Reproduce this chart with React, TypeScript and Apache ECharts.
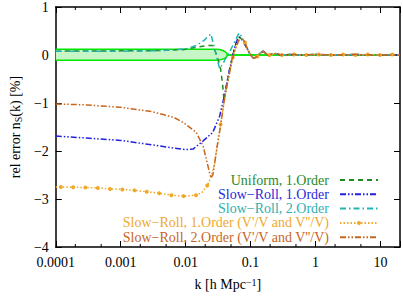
import React, { useEffect, useRef } from 'react';
import * as echarts from 'echarts';

const FONT = 'Liberation Serif';

// x tick labels (powers of ten) and minor tick positions
const xMin = 0.0001;
const xMax = 20;
const minorTicksK = [0.0002, 0.0005, 0.002, 0.005, 0.02, 0.05, 0.2, 0.5, 2, 5];

// green reference band
const bandK = [0.0001, 0.001, 0.01, 0.029, 0.0333, 0.038, 0.0409, 0.043, 0.0438, 20];
const bandUpper = [0.12, 0.12, 0.12, 0.12, 0.113, 0.089, 0.066, 0.037, 0, 0];
const bandLower = [-0.11, -0.11, -0.11, -0.11, -0.104, -0.081, -0.061, -0.034, 0, 0];

// Uniform, 1.Order
const uniformK = [0.0001, 0.003, 0.009, 0.0146, 0.022, 0.026, 0.0305, 0.0344, 0.037, 0.039, 0.0455, 0.052, 0.058, 0.064, 0.0685, 0.076, 0.0871, 0.1, 0.111, 0.127, 0.141, 0.156, 0.173, 0.186, 0.213, 0.244, 0.29, 0.4, 0.6, 1, 2, 4, 8, 20];
const uniformV = [0.08, 0.09, 0.11, 0.16, 0.2, 0.2, -0.02, -0.28, -0.6, -0.95, -0.42, -0.06, 0.2, 0.36, 0.37, 0.3, 0.15, 0.0, -0.07, -0.03, 0.04, 0.08, 0.03, -0.01, 0.02, 0.03, 0.0, 0.01, 0.0, 0.01, 0.0, 0.01, 0.0, 0.0];

// Slow-Roll, 1.Order
const sr1K = [0.0001, 0.0003, 0.001, 0.003, 0.006, 0.01, 0.013, 0.0186, 0.0262, 0.0333, 0.0395, 0.0455, 0.052, 0.058, 0.064, 0.0685, 0.076, 0.0871, 0.1, 0.111, 0.127, 0.141, 0.156, 0.173, 0.186, 0.213, 0.244, 0.29, 0.4, 0.6, 1, 2, 4, 8, 20];
const sr1V = [-1.69, -1.73, -1.78, -1.87, -1.93, -1.97, -1.96, -1.79, -1.61, -1.28, -0.85, -0.42, -0.06, 0.2, 0.36, 0.37, 0.3, 0.15, 0.0, -0.07, -0.03, 0.04, 0.08, 0.03, -0.01, 0.02, 0.03, 0.0, 0.01, 0.0, 0.01, 0.0, 0.01, 0.0, 0.0];

// Slow-Roll, 2.Order
const sr2K = [0.0001, 0.001, 0.004, 0.0104, 0.0146, 0.019, 0.0244, 0.0262, 0.0281, 0.0305, 0.0333, 0.0369, 0.0409, 0.0486, 0.057, 0.0662, 0.0734, 0.0814, 0.09, 0.1, 0.111, 0.127, 0.141, 0.156, 0.173, 0.186, 0.213, 0.244, 0.29, 0.4, 0.6, 1, 2, 4, 8, 20];
const sr2V = [0.08, 0.08, 0.09, 0.13, 0.2, 0.3, 0.44, 0.28, 0.12, -0.08, -0.28, -0.2, -0.08, 0.09, 0.28, 0.46, 0.38, 0.25, 0.1, 0.0, -0.07, -0.03, 0.04, 0.08, 0.03, -0.01, 0.02, 0.03, 0.0, 0.01, 0.0, 0.01, 0.0, 0.01, 0.0, 0.0];

// Slow-Roll, 1.Order (V'/V and V''/V)  -- srv1Dot: 1 = point marker drawn
const srv1K = [0.0001, 1.2e-4, 1.85e-4, 2.86e-4, 4.43e-4, 6.84e-4, 1.06e-3, 1.63e-3, 2.52e-3, 3.9e-3, 6.03e-3, 9.31e-3, 0.0144, 0.018, 0.0215, 0.0244, 0.028, 0.0305, 0.0344, 0.0395, 0.0438, 0.0486, 0.0531, 0.06, 0.0662, 0.0734, 0.082, 0.09, 0.1, 0.111, 0.127, 0.141, 0.156, 0.173, 0.196, 0.244, 0.303, 0.468, 0.723, 1.12, 1.73, 2.67, 4.12, 6.37, 9.84, 15.2, 20];
const srv1V = [-2.75, -2.75, -2.755, -2.76, -2.77, -2.79, -2.8, -2.82, -2.85, -2.88, -2.92, -2.94, -2.92, -2.86, -2.72, -2.56, -2.25, -1.91, -1.45, -0.93, -0.6, -0.3, -0.05, 0.18, 0.31, 0.34, 0.26, 0.12, 0.0, -0.07, -0.03, 0.04, 0.08, 0.03, 0.0, 0.03, 0.0, 0.01, 0.0, 0.01, 0.0, 0.01, 0.0, 0.01, 0.0, 0.01, 0.0];
const srv1Dot = [0, 1, 1, 1, 1, 1, 1, 1, 1, 1, 1, 1, 1, 0, 1, 0, 0, 0, 1, 0, 0, 0, 1, 0, 0, 0, 1, 0, 0, 0, 1, 0, 0, 0, 1, 0, 1, 1, 1, 1, 1, 1, 1, 1, 1, 1, 0];

// Slow-Roll, 2.Order (V'/V and V''/V)
const srv2K = [0.0001, 0.0003, 0.0006, 0.001, 0.003, 0.0066, 0.0093, 0.0145, 0.0186, 0.022, 0.0244, 0.0262, 0.028, 0.0305, 0.0333, 0.0363, 0.0395, 0.0438, 0.0486, 0.054, 0.06, 0.0662, 0.0734, 0.0814, 0.09, 0.1, 0.111, 0.127, 0.141, 0.156, 0.173, 0.186, 0.213, 0.244, 0.29, 0.4, 0.6, 1, 2, 4, 8, 20];
const srv2V = [-1.02, -1.04, -1.07, -1.09, -1.18, -1.3, -1.41, -1.61, -1.9, -2.31, -2.56, -2.5, -2.25, -1.91, -1.6, -1.27, -0.93, -0.6, -0.3, -0.02, 0.18, 0.31, 0.34, 0.27, 0.12, 0.0, -0.07, -0.03, 0.04, 0.08, 0.03, -0.01, 0.02, 0.03, 0.0, 0.01, 0.0, 0.01, 0.0, 0.01, 0.0, 0.0];

const names = [
  'Uniform, 1.Order',
  'Slow\u2212Roll, 1.Order',
  'Slow\u2212Roll, 2.Order',
  "Slow\u2212Roll, 1.Order (V'/V and V''/V)",
  "Slow\u2212Roll, 2.Order (V'/V and V''/V)",
];
const lineColors = ['#1e8c1e', '#2222dd', '#22b4b4', '#f0a828', '#c8661c'];
const textColors = ['#2a8a2a', '#2a2ad8', '#30b0b0', '#f0a830', '#c8661e'];
const dashes: number[][] = [
  [5, 4],
  [6, 2, 1.5, 2, 1.5, 2],
  [6, 3, 1.5, 3],
  [1.5, 2],
  [6, 2, 1.5, 2, 1.5, 2],
];

const pairs = (ks: number[], vs: number[]) => ks.map((k, i) => [k, vs[i]]);

const xLabel = (v: number) => {
  const e = Math.log10(v);
  const r = Math.round(e);
  if (Math.abs(e - r) > 1e-6) return '';
  return r < 0 ? Math.pow(10, r).toFixed(-r) : String(Math.pow(10, r));
};
const yLabel = (v: number) => (v < 0 ? '\u2212' + Math.abs(v) : String(v));

export default function App() {
  const ref = useRef<HTMLDivElement>(null);
  useEffect(() => {
    const chart = echarts.init(ref.current!, null, { renderer: 'svg' });
    const axisLine = { show: true, onZero: false, lineStyle: { color: '#000', width: 1.5 } };
    const lineSeries = (i: number, data: any[], extra: any = {}) => ({
      name: names[i],
      type: 'line',
      data,
      symbol: 'none',
      showSymbol: false,
      silent: true,
      z: 3 + i,
      lineStyle: { color: lineColors[i], width: 1.5, type: dashes[i] },
      itemStyle: { color: lineColors[i] },
      ...extra,
    });
    const option: any = {
      animation: false,
      textStyle: { fontFamily: FONT },
      grid: { left: 48, right: 1, top: 5, bottom: 47, containLabel: false },
      xAxis: [
        {
          type: 'log',
          logBase: 10,
          min: xMin,
          max: xMax,
          position: 'bottom',
          axisLine,
          axisTick: { inside: true, length: 6, lineStyle: { color: '#000', width: 1 } },
          axisLabel: { formatter: xLabel, margin: 8, fontFamily: FONT, fontSize: 14, color: '#000' },
          splitLine: { show: false },
          name: 'k [h Mpc{sup|\u22121}]',
          nameLocation: 'middle',
          nameGap: 30,
          nameTextStyle: {
            fontFamily: FONT,
            fontSize: 14,
            color: '#000',
            rich: { sup: { fontFamily: FONT, fontSize: 10, verticalAlign: 'top', color: '#000' } },
          },
        },
        {
          type: 'log',
          logBase: 10,
          min: xMin,
          max: xMax,
          position: 'top',
          axisLine,
          axisTick: { inside: true, length: 6, lineStyle: { color: '#000', width: 1 } },
          axisLabel: { show: false },
          splitLine: { show: false },
        },
      ],
      yAxis: [
        {
          type: 'value',
          min: -4,
          max: 1,
          interval: 1,
          position: 'left',
          axisLine,
          axisTick: { inside: true, length: 6, lineStyle: { color: '#000', width: 1 } },
          axisLabel: { formatter: yLabel, margin: 7, fontFamily: FONT, fontSize: 14, color: '#000' },
          splitLine: { show: false },
          name: 'rel error n{sub|S}(k) [%]',
          nameLocation: 'middle',
          nameGap: 32,
          nameTextStyle: {
            fontFamily: FONT,
            fontSize: 14,
            color: '#000',
            rich: { sub: { fontFamily: FONT, fontSize: 10, verticalAlign: 'bottom', color: '#000', padding: [6, 0, 0, 0] } },
          },
        },
        {
          type: 'value',
          min: -4,
          max: 1,
          interval: 1,
          position: 'right',
          axisLine,
          axisTick: { inside: true, length: 6, lineStyle: { color: '#000', width: 1 } },
          axisLabel: { show: false },
          splitLine: { show: false },
        },
      ],
      legend: {
        orient: 'vertical',
        right: 19,
        top: 168,
        align: 'right',
        itemWidth: 38,
        itemHeight: 5,
        itemGap: 0.3,
        selectedMode: false,
        textStyle: { fontFamily: FONT, fontSize: 14, lineHeight: 14, padding: [0, 6, 0, 0] },
        data: names.map((n, i) => ({
          name: n,
          textStyle: { color: textColors[i], fontFamily: FONT },
          itemStyle: i === 3 ? { color: lineColors[i] } : { opacity: 0 },
        })),
      },
      series: [
        {
          type: 'line',
          data: pairs(bandK, bandUpper),
          symbol: 'none',
          silent: true,
          z: 1,
          lineStyle: { color: '#00e600', width: 1.5 },
          areaStyle: { color: '#c6f6c6', opacity: 1 },
        },
        {
          type: 'line',
          data: pairs(bandK, bandLower),
          symbol: 'none',
          silent: true,
          z: 1,
          lineStyle: { color: '#00e600', width: 1.5 },
          areaStyle: { color: '#c6f6c6', opacity: 1 },
        },
        lineSeries(0, pairs(uniformK, uniformV)),
        lineSeries(1, pairs(sr1K, sr1V)),
        lineSeries(2, pairs(sr2K, sr2V)),
        lineSeries(
          3,
          srv1K.map((k, i) => ({ value: [k, srv1V[i]], symbol: srv1Dot[i] ? 'circle' : 'none' })),
          { symbol: 'circle', symbolSize: 4, showSymbol: true, showAllSymbol: true }
        ),
        lineSeries(4, pairs(srv2K, srv2V)),
        {
          type: 'custom',
          silent: true,
          z: 20,
          clip: false,
          data: minorTicksK.map((k) => [k, 0]),
          renderItem: (params: any, api: any) => {
            const x = api.coord([api.value(0), 0])[0];
            const cs = params.coordSys;
            const yb = cs.y + cs.height;
            const yt = cs.y;
            return {
              type: 'group',
              children: [
                { type: 'line', shape: { x1: x, y1: yb, x2: x, y2: yb - 3 }, style: { stroke: '#000', lineWidth: 1 } },
                { type: 'line', shape: { x1: x, y1: yt, x2: x, y2: yt + 3 }, style: { stroke: '#000', lineWidth: 1 } },
              ],
            };
          },
        },
      ],
    };
    chart.setOption(option);
    return () => chart.dispose();
  }, []);
  return <div ref={ref} style={{ position: 'absolute', left: 0, top: 0, width: 403, height: 296 }} />;
}
